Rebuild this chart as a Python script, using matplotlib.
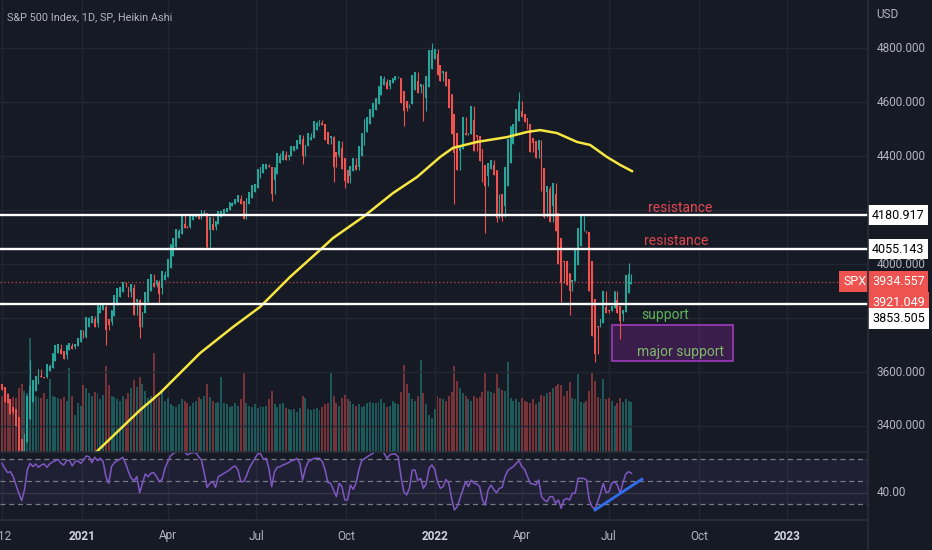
import numpy as np
import matplotlib
matplotlib.use("Agg")
import matplotlib.pyplot as plt
from matplotlib.patches import Rectangle
from matplotlib.lines import Line2D
from matplotlib.transforms import blended_transform_factory

# ============================
# DATA (one bar = 2 trading days, day 0 = 2021-01-04)
# ============================

first_day = -57

ha_close = [
    3535, 3489, 3484, 3443, 3453, 3401, 3271, 3270,
    3370, 3510, 3550, 3572, 3585, 3610, 3582, 3578, 3629, 3622,
    3669, 3699, 3702, 3668, 3647, 3701, 3709, 3687, 3703, 3727, 3756,
    3726, 3804, 3799, 3809, 3768, 3852, 3841, 3849, 3755, 3774,
    3831, 3887, 3911, 3916, 3932, 3913, 3876, 3925, 3811,
    3870, 3768, 3821, 3898, 3943, 3962, 3915, 3940, 3889, 3974, 3958, 4020,
    4074, 4097, 4128, 4124, 4185, 4134, 4135, 4187, 4183, 4181,
    4165, 4201, 4189, 4063, 4174, 4127, 4159, 4197, 4195, 4204,
    4208, 4230, 4227, 4239, 4255, 4223, 4166, 4246, 4266, 4291, 4297,
    4352, 4358, 4369, 4369, 4360, 4258, 4359, 4411, 4401, 4419,
    4387, 4402, 4437, 4436, 4460, 4479, 4400, 4441, 4486, 4470, 4528,
    4524, 4535, 4514, 4458, 4443, 4473, 4358, 4395, 4455, 4352, 4307,
    4300, 4363, 4391, 4350, 4438, 4486, 4537, 4544, 4575, 4596,
    4613, 4660, 4697, 4685, 4649, 4683, 4688, 4698, 4690, 4595, 4567,
    4577, 4591, 4701, 4712, 4634, 4668, 4568, 4696, 4791, 4793, 4796,
    4700, 4677, 4713, 4659, 4577, 4483, 4410, 4350, 4432, 4546,
    4477, 4484, 4587, 4419, 4471, 4380, 4304, 4288, 4374,
    4386, 4329, 4170, 4260, 4173, 4358, 4463, 4512, 4520, 4575, 4602,
    4546, 4525, 4500, 4413, 4447, 4391, 4459, 4272, 4175, 4288,
    4155, 4300, 4123, 4001, 3930, 4008, 3923, 3901, 3941, 4058,
    4132, 4176, 4121, 4115, 3901, 3735, 3667, 3765, 3796, 3900, 3819,
    3825, 3845, 3899, 3819, 3790, 3831, 3960, 3962, 3935,
]

volume_bn = [
    4.6, 4.4, 4.8, 4.3, 4.5, 4.4, 5.2, 5.6,
    5.0, 4.8, 9.3, 5.2, 4.6, 4.5, 4.4, 4.8, 4.3, 6.0,
    4.6, 4.5, 4.4, 4.3, 4.5, 4.2, 6.9, 4.6, 3.0, 4.0, 3.8,
    5.5, 5.2, 4.8, 4.6, 4.9, 4.8, 4.3, 4.7, 7.0, 5.5,
    4.6, 4.5, 4.3, 4.2, 4.6, 4.3, 4.8, 5.2, 5.9,
    5.3, 6.1, 5.6, 5.0, 4.4, 4.6, 8.1, 4.3, 4.5, 4.9, 4.2, 4.4,
    3.9, 3.8, 3.7, 3.9, 4.3, 4.2, 4.0, 3.8, 4.0, 4.2,
    4.5, 4.3, 4.6, 5.6, 4.5, 4.2, 4.0, 4.1, 6.1, 4.0,
    3.9, 3.7, 3.8, 4.0, 3.8, 4.3, 6.5, 4.0, 3.8, 3.7, 3.9,
    3.6, 3.8, 3.7, 3.8, 4.3, 5.0, 3.9, 3.7, 3.9, 4.0,
    3.6, 3.5, 3.4, 3.5, 3.3, 3.6, 4.6, 4.4, 3.5, 3.4, 3.5,
    3.6, 3.4, 3.7, 3.9, 4.0, 6.5, 4.6, 4.0, 3.8, 4.4, 4.7,
    4.3, 4.2, 3.9, 3.8, 3.9, 3.7, 3.8, 4.0, 4.1, 4.0,
    4.0, 4.1, 4.3, 4.0, 3.7, 3.8, 4.2, 4.0, 3.9, 4.9, 7.1,
    5.6, 4.8, 4.3, 4.2, 4.6, 7.5, 4.8, 3.9, 3.0, 2.8, 3.5,
    4.6, 4.4, 4.3, 4.2, 4.6, 4.9, 7.0, 5.8, 5.2, 4.8,
    4.6, 4.3, 4.2, 4.6, 4.4, 4.5, 4.9, 6.5, 5.0,
    4.9, 4.8, 6.4, 5.2, 5.1, 5.0, 7.4, 4.4, 4.2, 4.3, 4.1,
    4.4, 4.2, 4.1, 4.0, 4.3, 3.9, 4.1, 4.7, 4.6, 4.8,
    4.9, 5.2, 5.4, 5.6, 5.5, 4.6, 5.0, 5.7, 4.4, 4.3,
    6.4, 4.1, 4.0, 4.2, 5.0, 6.5, 5.8, 4.5, 4.3, 6.0, 4.3,
    4.4, 4.2, 3.8, 4.0, 4.4, 4.1, 4.3, 4.2, 4.1,
]

rsi = [
    66, 61.7, 57.9, 58.7, 54.3, 46.9, 39.5, 33,
    42.4, 60.2, 66.1, 63.2, 65.6, 62.6, 64.7, 65.6, 62.6, 65.6,
    67.3, 68.5, 69.7, 66.1, 64.7, 68.5, 69, 63.8, 67.6, 68.5, 66.1,
    69, 72.7, 72, 66.7, 71.5, 68.5, 70.6, 67.6, 54.3, 48.4,
    63.2, 66.7, 68.5, 69.7, 71.5, 66.1, 58.7, 52.8, 50.7,
    54.3, 40, 48.4, 56.7, 54.3, 57.3, 57.9, 54.3, 49.9, 51.9, 61.7, 67.6,
    72.7, 75, 76, 77, 78, 76.5, 73.6, 75, 75.6, 75.6,
    72, 69, 57.3, 44.8, 48.4, 49.9, 44.8, 54.3, 55.8, 57.3,
    58.7, 60.2, 62.6, 63.8, 60.2, 49.9, 49.9, 54.9, 61.7, 66.1, 70.6,
    74.4, 75, 69.7, 70.6, 61.7, 45.4, 58.7, 62.6, 63.2, 64.7,
    65.6, 66.7, 68.5, 69, 70.6, 66.1, 51.3, 61.7, 67.6, 69, 70.6,
    70.6, 70.6, 67.6, 60.2, 49, 48.4, 42.4, 36.5, 48.4, 45.4, 33.6,
    33.6, 46.9, 43, 48.4, 60.2, 68.5, 70.3, 72, 73.6, 75,
    77, 78, 78, 75, 70.6, 73.6, 74.4, 74.4, 72, 54.3, 41,
    38, 43.9, 60.2, 60.2, 50.7, 52.8, 43.9, 48.4, 61.7, 64.7, 60.8,
    49.9, 43.9, 45.4, 51.9, 48.4, 35, 24.7, 27.6, 35, 42.4,
    49.9, 45.4, 51.3, 48.4, 47.8, 45.4, 33.6, 29.1, 42.4,
    46.9, 43, 40, 43.9, 44.8, 54.3, 59.6, 61.7, 63.2, 66.1, 68.5,
    63.2, 60.8, 54.3, 48.4, 47.8, 46.9, 51.3, 36.5, 33.6, 32.1,
    36.5, 36.5, 30.6, 33.6, 26.1, 33.6, 35, 33.6, 39.5, 39.5,
    52.8, 52.8, 52.8, 51.3, 33.6, 27.6, 25.3, 32.1, 39.5, 48.4, 40,
    40.9, 48.4, 49.9, 46.9, 39.5, 49, 56.7, 58.7, 57.3,
]

# long wicks that stand out on the chart (day -> price)
wick_low = {-43: 3240, 17: 3700, 41: 3725, 55: 3855, 89: 4056, 115: 4165,
            135: 4235, 157: 4370, 179: 4305, 187: 4280, 229: 4510, 243: 4530,
            265: 4222, 287: 4114, 295: 4157, 299: 4160, 329: 4170, 341: 3858,
            347: 3810, 365: 3636, 383: 3721}
wick_high = {-37: 3645, 249: 4818, 311: 4637, 355: 4177, 389: 4005}

# 200 day moving average (yellow)
sma_day = [4, 11.6, 41.3, 55.5, 84, 107.5, 126.7, 148, 169.4, 178.6, 200,
           221.4, 238.4, 254.8, 264, 281, 302.5, 316.7, 326, 338, 352.3,
           361.6, 373.7, 383, 391.4]
sma_val = [3275, 3311, 3459, 3522, 3670, 3767, 3841, 3952, 4052, 4096, 4174,
           4263, 4322, 4396, 4430, 4452, 4470, 4489, 4496, 4485, 4452,
           4441, 4396, 4367, 4344]

levels = [4180.917, 4055.143, 3853.505]
last_ha = 3934.557
last_close = 3921.049

grid_prices = [3400, 3600, 3800, 4000, 4200, 4400, 4600, 4800]
price_labels = [3400, 3600, 4000, 4400, 4600, 4800]   # 3800/4200 sit under the boxes
time_ticks = [-57, 0, 61, 124, 188, 251, 313, 375, 439, 502]
time_labels = ["12", "2021", "Apr", "Jul", "Oct", "2022", "Apr", "Jul", "Oct", "2023"]

rsi_line_day = [365.1, 398.4]
rsi_line_val = [24.7, 52.0]

# ============================
# STYLE
# ============================

BG = "#161a25"
GRID = "#222632"
TXT = "#b2b5be"
UP = "#26a69a"
DOWN = "#ef5350"
plt.rcParams["font.family"] = ["Roboto", "DejaVu Sans"]

W, H = 932, 550
fig = plt.figure(figsize=(W / 100, H / 100), dpi=100)
fig.patch.set_facecolor(BG)

ax = fig.add_axes([0, 1 - 452 / H, 868 / W, 452 / H])
ax_vol = ax.twinx()
ax_rsi = fig.add_axes([0, 1 - 520 / H, 868 / W, 68 / H], sharex=ax)

ax_vol.set_zorder(0)
ax.set_zorder(1)
ax.patch.set_visible(False)
ax_vol.patch.set_facecolor(BG)
ax_rsi.patch.set_facecolor(BG)

for a in (ax, ax_vol, ax_rsi):
    for s in a.spines.values():
        s.set_visible(False)
    a.tick_params(left=False, right=False, bottom=False, top=False,
                  labelleft=False, labelright=False, labelbottom=False)

ax.set_xlim(-58.4, 559.4)
ax.set_ylim(3303.7, 4977.8)
ax_vol.set_ylim(0, 37.0)
ax_rsi.set_ylim(15.8, 76.2)

# ============================
# HEIKIN ASHI CANDLES
# ============================

c = np.array(ha_close, dtype=float)
days = first_day + 2 * np.arange(len(c))
o = np.empty_like(c)
o[0] = c[0] + 20
for i in range(1, len(c)):
    o[i] = (o[i - 1] + c[i - 1]) / 2
prev = np.r_[c[0], c[:-1]]
lo = np.minimum(np.minimum(o, c), prev)
hi = np.maximum(np.maximum(o, c), prev)
for d, v in wick_low.items():
    lo[(d - first_day) // 2] = v
for d, v in wick_high.items():
    hi[(d - first_day) // 2] = v

up = c >= o
col = np.where(up, UP, DOWN)

# grid
for t in time_ticks:
    ax_vol.axvline(t, color=GRID, lw=1, zorder=0)
    ax_rsi.axvline(t, color=GRID, lw=1, zorder=0)
for p in grid_prices:
    ax.axhline(p, color=GRID, lw=1, zorder=0)

ax_vol.bar(days, volume_bn, width=1.4, color=col, alpha=0.45, linewidth=0, zorder=1)

ax.vlines(days, lo, hi, colors=col, lw=0.8, zorder=3)
ax.bar(days, np.abs(c - o), bottom=np.minimum(o, c), width=1.3, color=col,
       linewidth=0, zorder=3)

ax.plot(sma_day, sma_val, color="#f5e642", lw=1.8, zorder=4)

# current price & levels
ax.axhline(last_ha, color=DOWN, lw=0.9, ls=(0, (1, 2)), alpha=0.8, zorder=2)
for lv in levels:
    ax.axhline(lv, color="white", lw=1.7, zorder=5)

# annotations
ax.add_patch(Rectangle((377.2, 3641), 86.1, 133, facecolor="#9c27b0",
                       alpha=0.28, edgecolor="none", zorder=2))
ax.add_patch(Rectangle((377.2, 3641), 86.1, 133, facecolor="none",
                       edgecolor="#a13bc0", lw=1.2, zorder=2))
ax.text(425.6, 4207, "resistance", color="#e04750", fontsize=10,
        ha="center", va="center", zorder=6)
ax.text(422.8, 4085, "resistance", color="#e04750", fontsize=10,
        ha="center", va="center", zorder=6)
ax.text(415, 3811, "support", color="#5fb35a", fontsize=10,
        ha="center", va="center", zorder=6)
ax.text(425.6, 3674, "major support", color="#7cb86a", fontsize=10,
        ha="center", va="center", zorder=6)

# ============================
# RSI PANE
# ============================

ax_rsi.axhspan(30, 70, color="#7e57c2", alpha=0.1, lw=0, zorder=0)
ax_rsi.axhline(40, color="#363a45", lw=0.9, zorder=1)
for lv in (70, 50, 30):
    ax_rsi.axhline(lv, color="#787b86", lw=0.9, ls=(0, (4, 3)), zorder=1)
ax_rsi.plot(first_day + 2 * np.arange(len(rsi)), rsi, color="#7e57c2",
            lw=1.1, zorder=3)
ax_rsi.plot(rsi_line_day, rsi_line_val, color="#2f6fed", lw=2, zorder=4)

# ============================
# AXIS LABELS (TradingView style)
# ============================

tr_price = blended_transform_factory(ax.transAxes, ax.transData)
lx = 877 / 868
for p in price_labels:
    ax.text(lx, p, f"{p:.3f}", transform=tr_price, color=TXT, fontsize=8.5,
            ha="left", va="center", clip_on=False, zorder=1)
fig.text(876 / W, 1 - 15 / H, "USD", color=TXT, fontsize=8.5,
         ha="left", va="center")

box_x = 872 / 868
label_boxes = [
    (levels[0], 0, "white", "black"),
    (levels[1], 0, "white", "black"),
    (last_ha, 0, DOWN, "white"),
    (last_close, -17, DOWN, "white"),
    (levels[2], -15, "white", "black"),
]
for val, off, fc, tc in label_boxes:
    ax.annotate(f"{val:.3f}", xy=(box_x, val), xycoords=tr_price,
                xytext=(0, off * 0.72), textcoords="offset points",
                color=tc, fontsize=9, ha="left", va="center",
                annotation_clip=False, zorder=10,
                bbox=dict(boxstyle="square,pad=0.3", fc=fc, ec="none"))
ax.text(843 / 868, last_ha, "SPX", transform=tr_price, color="white",
        fontsize=9, ha="left", va="center", clip_on=False, zorder=10,
        bbox=dict(boxstyle="square,pad=0.3", fc=DOWN, ec="none"))

tr_rsi = blended_transform_factory(ax_rsi.transAxes, ax_rsi.transData)
ax_rsi.text(lx, 40, "40.00", transform=tr_rsi, color=TXT, fontsize=8.5,
            ha="left", va="center", clip_on=False)

tr_time = blended_transform_factory(ax_rsi.transData, ax_rsi.transAxes)
for t, lab in zip(time_ticks, time_labels):
    is_year = lab.isdigit() and len(lab) == 4
    ax_rsi.text(max(t, -55), -16 / 68, lab, transform=tr_time,
                color="#d1d4dc" if is_year else TXT, fontsize=8.5,
                fontweight="bold" if is_year else "normal",
                ha="center", va="center", clip_on=False)

fig.text(7 / W, 1 - 17 / H, "S&P 500 Index, 1D, SP, Heikin Ashi",
         color=TXT, fontsize=7.8, ha="left", va="center")

# pane separators
for y in (452, 520):
    fig.add_artist(Line2D([0, 868 / W], [1 - y / H, 1 - y / H],
                          color="#2a2e39", lw=1.2, transform=fig.transFigure))
fig.add_artist(Line2D([868 / W, 868 / W], [0, 1], color="#2a2e39", lw=1.2,
                      transform=fig.transFigure))

fig.savefig("out.png", dpi=100, facecolor=BG)
print("saved out.png")
